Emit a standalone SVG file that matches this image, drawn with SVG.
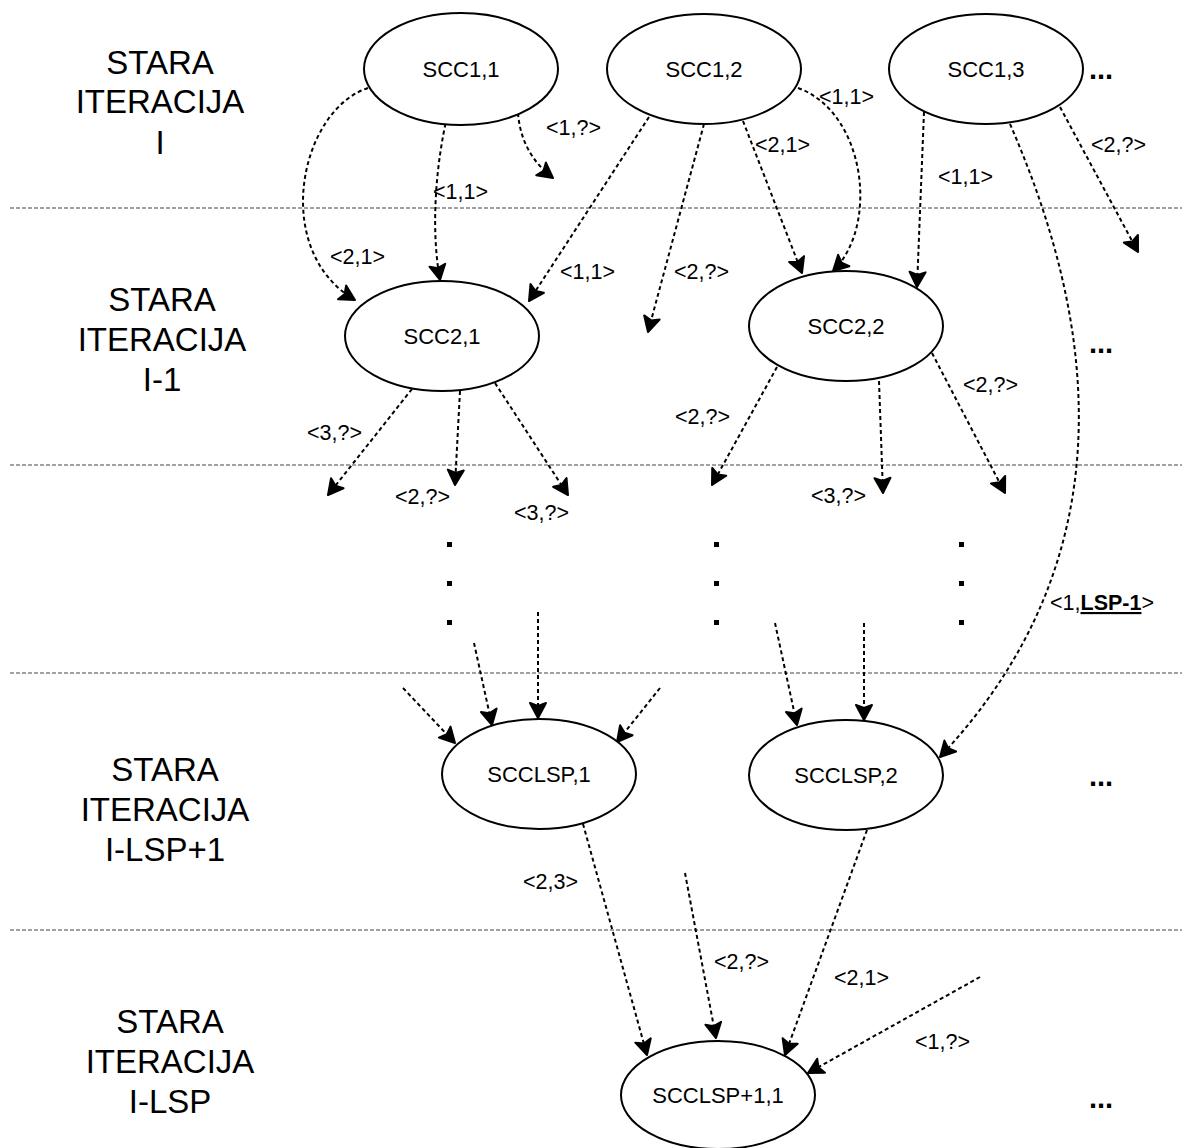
<svg xmlns="http://www.w3.org/2000/svg" width="1182" height="1148" viewBox="0 0 1182 1148">
<style>
.bg{fill:#fff}
.node ellipse{fill:#fff;stroke:#000;stroke-width:2}
.node text{font-family:"Liberation Sans",Arial,sans-serif;font-size:22px;text-anchor:middle;fill:#000}
.sep{stroke:#444;stroke-width:1;stroke-dasharray:4 2;fill:none}
.edge{stroke:#000;stroke-width:2;stroke-dasharray:4 3;fill:none;marker-end:url(#ah)}
.lbl{font-family:"Liberation Sans",Arial,sans-serif;font-size:21.5px;fill:#000}
.lvl{font-family:"Liberation Sans",Arial,sans-serif;font-size:33px;text-anchor:middle;fill:#000}
.more{font-family:"Liberation Sans",Arial,sans-serif;font-size:29px;font-weight:bold;fill:#000}
.dot{fill:#000}
</style>
<defs>
<marker id="ah" markerUnits="userSpaceOnUse" markerWidth="20" markerHeight="20" viewBox="0 0 20 20" refX="17" refY="10" orient="auto">
<path d="M2,2 L17,10 L2,18 L5,10 Z" fill="#000" stroke="#000" stroke-width="2" stroke-linejoin="round"/>
</marker>
</defs>
<rect class="bg" x="0" y="0" width="1182" height="1148"/>
<g id="separators">
<line class="sep" x1="10" y1="208" x2="1182" y2="208"/>
<line class="sep" x1="10" y1="465" x2="1182" y2="465"/>
<line class="sep" x1="10" y1="673" x2="1182" y2="673"/>
<line class="sep" x1="10" y1="930" x2="1182" y2="930"/>
</g>
<g id="levels">
<text class="lvl" x="160" y="74">STARA</text>
<text class="lvl" x="160" y="113">ITERACIJA</text>
<text class="lvl" x="160" y="154">I</text>
<text class="lvl" x="162" y="311">STARA</text>
<text class="lvl" x="162" y="351">ITERACIJA</text>
<text class="lvl" x="162" y="391">I-1</text>
<text class="lvl" x="165" y="781">STARA</text>
<text class="lvl" x="165" y="821">ITERACIJA</text>
<text class="lvl" x="165" y="861">I-LSP+1</text>
<text class="lvl" x="170" y="1033">STARA</text>
<text class="lvl" x="170" y="1073">ITERACIJA</text>
<text class="lvl" x="170" y="1113">I-LSP</text>
</g>
<g id="connectors">
<path class="edge" d="M368,88 C300,110 270,250 355,300"/>
<path class="edge" d="M447,117 C437,160 430,225 440,280"/>
<path class="edge" d="M518,113 C520,140 532,162 553,178"/>
<path class="edge" d="M649,117 L529,301"/>
<path class="edge" d="M704,124 L648,332"/>
<path class="edge" d="M743,121 L802,273"/>
<path class="edge" d="M798,88 C865,112 880,225 833,271"/>
<path class="edge" d="M924,112 L917,287"/>
<path class="edge" d="M1010,124 C1100,330 1125,560 940,757"/>
<path class="edge" d="M1060,107 L1138,252"/>
<path class="edge" d="M412,389 L328,495"/>
<path class="edge" d="M460,391 L455,485"/>
<path class="edge" d="M495,383 L568,495"/>
<path class="edge" d="M777,367 L712,485"/>
<path class="edge" d="M879,381 L883,493"/>
<path class="edge" d="M932,353 L1005,493"/>
<path class="edge" d="M403,688 L455,743"/>
<path class="edge" d="M474,643 L492,725"/>
<path class="edge" d="M538,612 L538,718"/>
<path class="edge" d="M660,688 L617,742"/>
<path class="edge" d="M775,623 L797,725"/>
<path class="edge" d="M864,623 L864,720"/>
<path class="edge" d="M583,824 L647,1055"/>
<path class="edge" d="M685,873 L716,1038"/>
<path class="edge" d="M867,830 L785,1055"/>
<path class="edge" d="M980,977 L808,1073"/>
</g>
<g id="labels">
<text class="lbl" x="330" y="264">&lt;2,1&gt;</text>
<text class="lbl" x="433" y="199">&lt;1,1&gt;</text>
<text class="lbl" x="546" y="135">&lt;1,?&gt;</text>
<text class="lbl" x="560" y="279">&lt;1,1&gt;</text>
<text class="lbl" x="674" y="279">&lt;2,?&gt;</text>
<text class="lbl" x="755" y="152">&lt;2,1&gt;</text>
<text class="lbl" x="819" y="104">&lt;1,1&gt;</text>
<text class="lbl" x="938" y="184">&lt;1,1&gt;</text>
<text class="lbl" x="1091" y="152">&lt;2,?&gt;</text>
<text class="lbl" x="307" y="440">&lt;3,?&gt;</text>
<text class="lbl" x="395" y="504">&lt;2,?&gt;</text>
<text class="lbl" x="514" y="520">&lt;3,?&gt;</text>
<text class="lbl" x="675" y="424">&lt;2,?&gt;</text>
<text class="lbl" x="811" y="503">&lt;3,?&gt;</text>
<text class="lbl" x="963" y="392">&lt;2,?&gt;</text>
<text class="lbl" x="1050" y="610">&lt;1,<tspan font-weight="bold" text-decoration="underline">LSP-1</tspan>&gt;</text>
<text class="lbl" x="523" y="889">&lt;2,3&gt;</text>
<text class="lbl" x="714" y="969">&lt;2,?&gt;</text>
<text class="lbl" x="834" y="985">&lt;2,1&gt;</text>
<text class="lbl" x="915" y="1049">&lt;1,?&gt;</text>
</g>
<g id="continuation">
<text class="more" x="1089" y="79">...</text>
<text class="more" x="1089" y="353">...</text>
<text class="more" x="1089" y="786">...</text>
<text class="more" x="1089" y="1108">...</text>
<rect class="dot" x="447" y="542" width="5" height="5"/>
<rect class="dot" x="447" y="581" width="5" height="5"/>
<rect class="dot" x="447" y="620" width="5" height="5"/>
<rect class="dot" x="714" y="542" width="5" height="5"/>
<rect class="dot" x="714" y="581" width="5" height="5"/>
<rect class="dot" x="714" y="620" width="5" height="5"/>
<rect class="dot" x="959" y="542" width="5" height="5"/>
<rect class="dot" x="959" y="581" width="5" height="5"/>
<rect class="dot" x="959" y="620" width="5" height="5"/>
</g>
<g id="SCC1_1" class="node"><ellipse cx="461" cy="69" rx="97" ry="56"/><text x="461" y="77">SCC1,1</text></g>
<g id="SCC1_2" class="node"><ellipse cx="704" cy="69" rx="97" ry="55"/><text x="704" y="77">SCC1,2</text></g>
<g id="SCC1_3" class="node"><ellipse cx="986" cy="69" rx="97" ry="55"/><text x="986" y="77">SCC1,3</text></g>
<g id="SCC2_1" class="node"><ellipse cx="442" cy="336" rx="97" ry="55"/><text x="442" y="344">SCC2,1</text></g>
<g id="SCC2_2" class="node"><ellipse cx="846" cy="326" rx="97" ry="55"/><text x="846" y="334">SCC2,2</text></g>
<g id="SCCLSP_1" class="node"><ellipse cx="539" cy="774" rx="97" ry="55"/><text x="539" y="782">SCCLSP,1</text></g>
<g id="SCCLSP_2" class="node"><ellipse cx="846" cy="775" rx="97" ry="55"/><text x="846" y="783">SCCLSP,2</text></g>
<g id="SCCLSP1_1" class="node"><ellipse cx="718" cy="1095" rx="97" ry="54"/><text x="718" y="1103">SCCLSP+1,1</text></g>
</svg>
